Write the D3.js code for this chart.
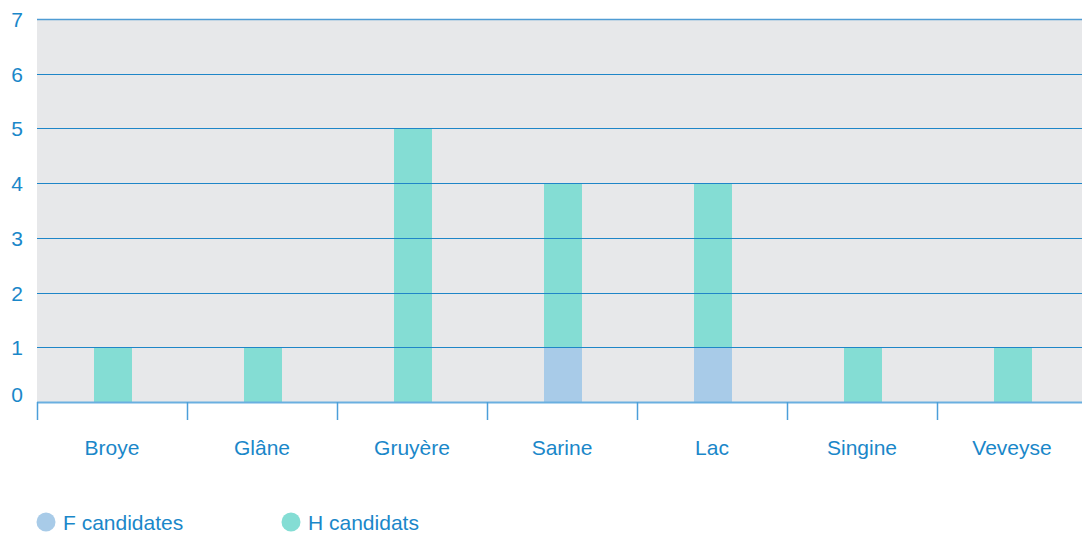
<!DOCTYPE html>
<html>
<head>
<meta charset="utf-8">
<style>
  body { margin: 0; background: #fff; }
  svg text { font-family: "Liberation Sans", Arial, sans-serif; fill: #1a87c9; }
</style>
</head>
<body>
<svg width="1082" height="533"></svg>
<script src="https://d3js.org/d3.v7.min.js"></script>
<script>

var districts = ["Broye", "Glâne", "Gruyère", "Sarine", "Lac", "Singine", "Veveyse"];
var femmes = [0, 0, 0, 1, 1, 0, 0];
var hommes = [1, 1, 5, 3, 3, 1, 1];
var yTicks = [0, 1, 2, 3, 4, 5, 6, 7];
var legendLabels = ["F candidates", "H candidats"];

var svg = d3.select("svg"),
    plotLeft = 37, plotRight = 1087, plotTop = 19, plotBottom = 402;

var x = d3.scaleBand().domain(districts).range([plotLeft, plotRight]);
var y = d3.scaleLinear().domain([0, 7]).range([plotBottom, plotTop]);
var color = d3.scaleOrdinal().domain(legendLabels).range(["#a8cbe8", "#84ddd4"]);

// fond gris
svg.append("rect")
    .attr("x", plotLeft).attr("y", plotTop)
    .attr("width", 1082 - plotLeft).attr("height", plotBottom - plotTop)
    .attr("fill", "#e7e8ea");

// barres empilées
var rows = districts.map(function(d, i) { return {district: d, F: femmes[i], H: hommes[i]}; });
var stack = d3.stack().keys(["F", "H"])(rows);
var barW = 38;

svg.selectAll("g.serie")
  .data(stack)
  .enter().append("g")
    .attr("fill", function(d, i) { return color(legendLabels[i]); })
  .selectAll("rect")
  .data(function(d) { return d; })
  .enter().append("rect")
    .attr("x", function(d) { return Math.round(x(d.data.district) + x.bandwidth() / 2 - barW / 2) + 1; })
    .attr("width", barW)
    .attr("y", function(d) { return y(d[1]); })
    .attr("height", function(d) { return y(d[0]) - y(d[1]); });

// grille
svg.selectAll("line.grid")
  .data(yTicks.filter(function(t) { return t > 0; }))
  .enter().append("line")
    .attr("x1", plotLeft).attr("x2", 1082)
    .attr("y1", function(d) { return Math.round(y(d)) + 0.5; })
    .attr("y2", function(d) { return Math.round(y(d)) + 0.5; })
    .attr("stroke", function(d) { return d == 7 ? "#4f9cd4" : "#1f86c8"; })
    .attr("stroke-width", function(d) { return d == 7 ? 1.5 : 1.2; });

// ligne de base
svg.append("line")
    .attr("x1", plotLeft).attr("x2", 1082)
    .attr("y1", plotBottom + 0.5).attr("y2", plotBottom + 0.5)
    .attr("stroke", "#6aafe0").attr("stroke-width", 2);

// graduations x
svg.selectAll("line.tick")
  .data(districts)
  .enter().append("line")
    .attr("x1", function(d) { return x(d) + 0.5; })
    .attr("x2", function(d) { return x(d) + 0.5; })
    .attr("y1", plotBottom).attr("y2", plotBottom + 18)
    .attr("stroke", "#4c9fd9").attr("stroke-width", 1.5);

svg.selectAll("text.xlab")
  .data(districts)
  .enter().append("text")
    .attr("x", function(d) { return x(d) + x.bandwidth() / 2; })
    .attr("y", 455)
    .attr("text-anchor", "middle")
    .style("font-size", "21px")
    .text(function(d) { return d; });

// étiquettes y
svg.selectAll("text.ylab")
  .data(yTicks)
  .enter().append("text")
    .attr("x", 17)
    .attr("y", function(d) { return d == 0 ? y(d) - 0.5 : y(d) + 8; })
    .attr("text-anchor", "middle")
    .style("font-size", "21px")
    .text(function(d) { return d; });

// légende
var leg = svg.selectAll("g.leg")
  .data(legendLabels)
  .enter().append("g")
    .attr("transform", function(d, i) { return "translate(" + (46 + i * 245) + ",522)"; });

leg.append("circle").attr("r", 9.5).attr("fill", function(d) { return color(d); });
leg.append("text")
    .attr("x", 17).attr("y", 7.5)
    .style("font-size", "21px")
    .text(function(d) { return d; });

</script>
</body>
</html>
